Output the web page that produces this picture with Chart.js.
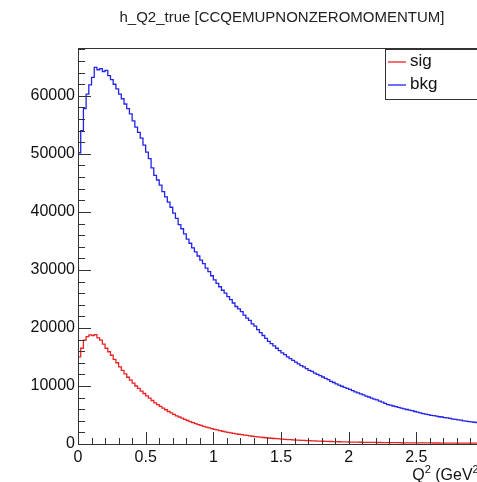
<!DOCTYPE html>
<html lang="en">
<head>
    <meta charset="UTF-8">
    <title>h_Q2_true</title>
    <script src="https://cdn.jsdelivr.net/npm/chart.js"></script>
    <style>
        html, body { margin: 0; padding: 0; background: #fff; overflow: hidden; }
        .wrap { width: 564px; height: 482px; }
    </style>
</head>
<body>
    <div class="wrap"><canvas id="q2Chart"></canvas></div>

    <script>
        // histogram binning (GeV^2)
        const binWidth = 0.02;
        const xMin = 0, xMax = 3;
        const yMax = 68250;

        const chartTitle = 'h_Q2_true [CCQEMUPNONZEROMOMENTUM]';
        const seriesNames = ['sig', 'bkg'];
        const seriesColors = ['rgb(235,35,35)', 'rgb(35,35,235)'];

        // bin contents, 0.02 wide bins from 0 to 3
        const sigCounts = [
            11900, 15000, 16500, 17900, 18500, 18800, 18700, 18850, 18300, 17900,
            17200, 16500, 15900, 15300, 14600, 14000, 13300, 12700, 12100, 11500,
            11000, 10500, 10000, 9600, 9100, 8700, 8300, 7900, 7500, 7100,
            6800, 6500, 6200, 5900, 5600, 5350, 5100, 4850, 4650, 4450,
            4250, 4050, 3850, 3700, 3500, 3350, 3200, 3050, 2900, 2780,
            2650, 2530, 2420, 2300, 2200, 2100, 2000, 1920, 1830, 1750,
            1680, 1600, 1530, 1470, 1400, 1340, 1280, 1230, 1170, 1120,
            1080, 1030, 990, 950, 910, 870, 840, 800, 770, 740,
            710, 680, 660, 630, 610, 590, 570, 550, 530, 510,
            490, 470, 460, 440, 430, 410, 400, 390, 370, 360,
            350, 340, 330, 320, 310, 305, 295, 290, 280, 275,
            265, 260, 255, 250, 245, 240, 235, 230, 225, 220,
            215, 210, 205, 200, 198, 195, 192, 190, 187, 184,
            180, 178, 175, 172, 170, 168, 165, 163, 160, 158,
            156, 154, 152, 150, 148, 146, 144, 142, 140, 138
        ];
        const bkgCounts = [
            36000, 50200, 54000, 57800, 60300, 61900, 63200, 64900, 64500, 64700,
            64200, 64400, 63500, 62800, 62000, 61200, 60300, 59500, 58600, 57800,
            56900, 55700, 54600, 53700, 52700, 51500, 50300, 49200, 47600, 46300,
            45500, 44600, 43500, 42600, 41700, 40800, 39800, 38900, 37800, 37100,
            36200, 35300, 34600, 33800, 33100, 32400, 31700, 31100, 30300, 29700,
            29000, 28300, 27700, 27100, 26500, 26000, 25400, 24900, 24300, 23700,
            23300, 22800, 22200, 21700, 21300, 20700, 20300, 19700, 19200, 18700,
            18200, 17700, 17300, 16900, 16500, 16100, 15700, 15400, 15000, 14700,
            14400, 14100, 13800, 13500, 13300, 13000, 12700, 12500, 12200, 12000,
            11800, 11550, 11300, 11100, 10800, 10600, 10350, 10150, 9950, 9750,
            9600, 9400, 9200, 9000, 8800, 8650, 8450, 8250, 8100, 7900,
            7750, 7600, 7400, 7200, 7000, 6800, 6700, 6550, 6450, 6300,
            6200, 6050, 5950, 5850, 5750, 5600, 5500, 5350, 5250, 5150,
            5050, 4950, 4900, 4800, 4700, 4650, 4550, 4500, 4400, 4300,
            4250, 4150, 4100, 4000, 3950, 3850, 3800, 3750, 3700, 3600
        ];

        // axis tick labels
        const xTicks = [0, 0.5, 1, 1.5, 2, 2.5, 3];
        const yTicks = [0, 10000, 20000, 30000, 40000, 50000, 60000];
        const xMinorStep = 0.1, yMinorStep = 2000;

        // turn bin contents into step points (left edges + closing right edge)
        function toSteps(counts) {
            const pts = counts.map((v, i) => ({ x: xMin + i * binWidth, y: v }));
            pts.push({ x: xMin + counts.length * binWidth, y: counts[counts.length - 1] });
            return pts;
        }

        const FONT = '"Liberation Sans", Arial, Helvetica, sans-serif';

        // ROOT style frame, inward ticks, legend box, pad title and x title
        const rootFrame = {
            id: 'rootFrame',
            afterDraw(chart) {
                const ctx = chart.ctx;
                const a = chart.chartArea;
                const xs = chart.scales.x, ys = chart.scales.y;
                ctx.save();

                // title centred on the whole pad, like ROOT
                ctx.fillStyle = '#222';
                ctx.font = '15px ' + FONT;
                ctx.textAlign = 'center';
                ctx.textBaseline = 'middle';
                ctx.fillText(chartTitle, chart.width / 2, 18);
                ctx.textAlign = 'left';

                ctx.strokeStyle = '#333';
                ctx.lineWidth = 1;
                ctx.strokeRect(Math.round(a.left) + 0.5, Math.round(a.top) + 0.5,
                    Math.round(a.right - a.left), Math.round(a.bottom - a.top));

                ctx.beginPath();
                for (let k = 0; k * xMinorStep <= xMax + 1e-9; k++) {
                    const px = Math.round(xs.getPixelForValue(k * xMinorStep)) + 0.5;
                    ctx.moveTo(px, a.bottom);
                    ctx.lineTo(px, a.bottom - (k % 5 === 0 ? 12 : 6));
                }
                for (let k = 0; k * yMinorStep <= yMax; k++) {
                    const py = Math.round(ys.getPixelForValue(k * yMinorStep)) + 0.5;
                    ctx.moveTo(a.left, py);
                    ctx.lineTo(a.left + (k % 5 === 0 ? 13 : 7), py);
                }
                ctx.stroke();

                // legend
                const lx = 385, ly = 49, lw = 110, lh = 50;
                ctx.fillStyle = '#fff';
                ctx.fillRect(lx, ly, lw, lh);
                ctx.strokeStyle = '#333';
                ctx.strokeRect(lx + 0.5, ly + 0.5, lw, lh);
                ctx.font = '17px ' + FONT;
                ctx.textBaseline = 'middle';
                chart.data.datasets.forEach((ds, i) => {
                    const y = ly + 13 + i * 23;
                    ctx.strokeStyle = ds.borderColor;
                    ctx.lineWidth = 1.3;
                    ctx.beginPath();
                    ctx.moveTo(lx + 3, y);
                    ctx.lineTo(lx + 21, y);
                    ctx.stroke();
                    ctx.fillStyle = '#111';
                    ctx.fillText(ds.label, lx + 25, y - 1);
                });

                // x axis title Q^2 (GeV^2), right aligned to axis end
                const parts = [['Q', 16, 0], ['2', 11, -7], [' (GeV', 16, 0], ['2', 11, -7], [')', 16, 0]];
                let total = 0;
                parts.forEach(p => { ctx.font = p[1] + 'px ' + FONT; total += ctx.measureText(p[0]).width; });
                let x = a.right - total;
                ctx.fillStyle = '#111';
                ctx.textBaseline = 'alphabetic';
                parts.forEach(p => {
                    ctx.font = p[1] + 'px ' + FONT;
                    ctx.fillText(p[0], x, 480 + p[2]);
                    x += ctx.measureText(p[0]).width;
                });
                ctx.restore();
            }
        };

        const ctx = document.getElementById('q2Chart').getContext('2d');
        const q2Chart = new Chart(ctx, {
            type: 'line',
            data: {
                datasets: [
                    { label: seriesNames[0], data: toSteps(sigCounts), borderColor: seriesColors[0] },
                    { label: seriesNames[1], data: toSteps(bkgCounts), borderColor: seriesColors[1] }
                ].map(d => Object.assign(d, {
                    stepped: 'after', pointRadius: 0, borderWidth: 1.3, fill: false, tension: 0
                }))
            },
            options: {
                responsive: true,
                maintainAspectRatio: false,
                animation: false,
                layout: { padding: { left: 0, right: 80, top: 48, bottom: 0 } },
                plugins: {
                    legend: { display: false },
                    tooltip: { enabled: false },
                    title: { display: false }
                },
                scales: {
                    x: {
                        type: 'linear',
                        min: xMin,
                        max: xMax,
                        grid: { display: false, drawTicks: false },
                        border: { display: false },
                        afterFit(scale) { scale.height = 38; },
                        afterBuildTicks(scale) { scale.ticks = xTicks.map(v => ({ value: v })); },
                        ticks: {
                            autoSkip: false,
                            maxRotation: 0,
                            padding: 4,
                            color: '#111',
                            font: { family: FONT, size: 16 },
                            callback: v => String(v)
                        }
                    },
                    y: {
                        type: 'linear',
                        min: 0,
                        max: yMax,
                        grid: { display: false, drawTicks: false },
                        border: { display: false },
                        afterFit(scale) { scale.width = 78; },
                        afterBuildTicks(scale) { scale.ticks = yTicks.map(v => ({ value: v })); },
                        ticks: {
                            autoSkip: false,
                            padding: 3,
                            color: '#111',
                            font: { family: FONT, size: 16 },
                            callback: v => String(v)
                        }
                    }
                }
            },
            plugins: [rootFrame]
        });
    </script>
</body>
</html>
